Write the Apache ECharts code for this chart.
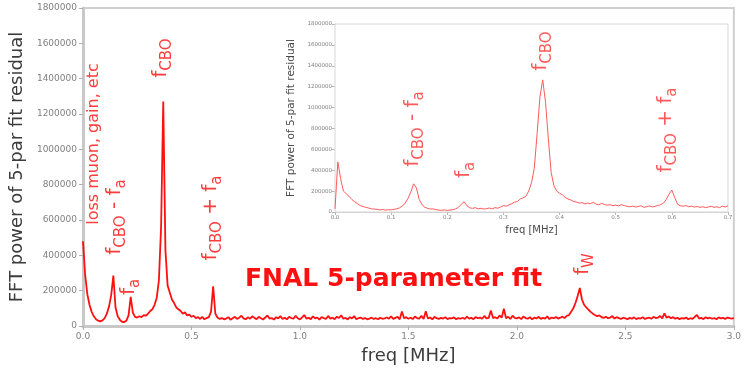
<!DOCTYPE html>
<html>
<head>
<meta charset="utf-8">
<script src="https://cdn.jsdelivr.net/npm/echarts@6/dist/echarts.min.js"></script>
<style>
  html, body { margin: 0; padding: 0; background: #fff; }
  #chart { width: 744px; height: 370px; }
</style>
</head>
<body>
<div id="chart"></div>
<script>
// FFT power of the 5-parameter fit residual, 0 - 3 MHz, one sample every 10 kHz
const mainStep = 0.01;
const mainPower = [
  480000, 290000, 180000, 120000, 80000, 55000, 38000, 30000, 26000, 32000,
  45000, 70000, 110000, 175000, 285000, 105000, 55000, 35000, 24000, 22000,
  30000, 60000, 165000, 75000, 52000, 48000, 55000, 50000, 62000, 58000,
  70000, 85000, 95000, 120000, 160000, 260000, 560000, 1270000, 430000, 230000,
  190000, 150000, 130000, 105000, 95000, 85000, 70000, 78000, 60000, 65000,
  52000, 58000, 45000, 50000, 40000, 52000, 38000, 45000, 50000, 80000,
  225000, 70000, 48000, 40000, 45000, 38000, 42000, 50000, 36000, 44000,
  52000, 40000, 47000, 58000, 43000, 38000, 49000, 41000, 55000, 46000,
  39000, 52000, 44000, 37000, 48000, 60000, 42000, 45000, 36000, 50000,
  43000, 56000, 40000, 47000, 38000, 52000, 45000, 41000, 58000, 44000,
  37000, 49000, 62000, 42000, 46000, 39000, 55000, 43000, 48000, 36000,
  51000, 44000, 40000, 57000, 42000, 47000, 38000, 53000, 45000, 61000,
  41000, 46000, 37000, 50000, 43000, 56000, 39000, 44000, 48000, 40000,
  45000, 38000, 42000, 47000, 40000, 44000, 39000, 46000, 41000, 43000,
  48000, 42000, 55000, 40000, 46000, 52000, 38000, 82000, 44000, 50000,
  41000, 47000, 39000, 54000, 45000, 42000, 58000, 40000, 84000, 43000,
  48000, 38000, 52000, 44000, 40000, 46000, 42000, 50000, 39000, 45000,
  43000, 49000, 38000, 45000, 41000, 47000, 40000, 53000, 42000, 46000,
  39000, 51000, 44000, 48000, 41000, 57000, 43000, 46000, 88000, 45000,
  50000, 42000, 60000, 47000, 98000, 44000, 52000, 40000, 58000, 46000,
  43000, 49000, 39000, 54000, 45000, 41000, 50000, 38000, 47000, 43000,
  52000, 40000, 46000, 42000, 55000, 39000, 48000, 44000, 51000, 42000,
  47000, 53000, 45000, 58000, 62000, 80000, 100000, 130000, 170000, 215000,
  150000, 120000, 105000, 92000, 80000, 70000, 62000, 55000, 60000, 50000,
  46000, 52000, 44000, 48000, 56000, 42000, 50000, 45000, 40000, 47000,
  43000, 38000, 46000, 41000, 49000, 39000, 45000, 42000, 50000, 40000,
  44000, 47000, 41000, 52000, 45000, 48000, 56000, 43000, 72000, 47000,
  54000, 44000, 50000, 41000, 46000, 39000, 45000, 42000, 48000, 38000,
  44000, 40000, 52000, 62000, 42000, 46000, 39000, 50000, 43000, 47000,
  41000, 45000, 38000, 49000, 43000, 46000, 40000, 48000, 44000, 42000,
  45000
];

// Close-up of the low-frequency region, 0 - 0.7 MHz, one sample every 5 kHz
const insetStep = 0.005;
const insetPower = [
  30000, 480000, 320000, 200000, 175000, 150000, 120000, 100000, 80000, 62000,
  52000, 45000, 38000, 30000, 28000, 25000, 20000, 24000, 18000, 22000,
  20000, 26000, 30000, 40000, 58000, 85000, 130000, 190000, 270000, 230000,
  120000, 70000, 45000, 35000, 28000, 30000, 22000, 18000, 16000, 20000,
  15000, 18000, 22000, 30000, 45000, 75000, 98000, 60000, 40000, 35000,
  42000, 30000, 36000, 28000, 32000, 38000, 30000, 42000, 36000, 48000,
  62000, 55000, 68000, 80000, 95000, 100000, 125000, 135000, 150000, 200000,
  280000, 420000, 750000, 1100000, 1265000, 1050000, 700000, 380000, 250000, 200000,
  180000, 165000, 140000, 125000, 115000, 100000, 95000, 85000, 90000, 78000,
  85000, 80000, 92000, 75000, 70000, 82000, 72000, 65000, 70000, 60000,
  66000, 58000, 70000, 62000, 55000, 50000, 56000, 48000, 52000, 60000,
  45000, 50000, 58000, 48000, 55000, 62000, 70000, 85000, 120000, 170000,
  210000, 140000, 75000, 60000, 55000, 62000, 50000, 56000, 48000, 52000,
  45000, 50000, 42000, 48000, 55000, 45000, 50000, 42000, 56000, 48000,
  60000
];

// Axis ranges
const mainFreqTicks = [0, 0.5, 1.0, 1.5, 2.0, 2.5, 3.0];
const insetFreqTicks = [0, 0.1, 0.2, 0.3, 0.4, 0.5, 0.6, 0.7];
const powerMax = 1800000;
const powerStep = 200000;

const mainData = mainPower.map((v, i) => [+(i * mainStep).toFixed(3), v]);
const insetData = insetPower.map((v, i) => [+(i * insetStep).toFixed(3), v]);

const FONT = 'DejaVu Sans';
const mainRed = '#ff1010';
const noteRed = '#ff3c3c';
const insetRed = '#ff5a5a';

// Rotated peak annotations; {m|..} is the main run, {s|..} a lowered subscript
function note(x, y, text, color, size, sub) {
  return {
    type: 'text', x: x, y: y, rotation: Math.PI / 2, z: 10,
    style: {
      text: text, fill: color, align: 'center', verticalAlign: 'middle',
      fontFamily: FONT, fontSize: size,
      rich: {
        m: { fontSize: size, fontFamily: FONT, fill: color, lineHeight: size, verticalAlign: 'top' },
        s: { fontSize: sub, fontFamily: FONT, fill: color, lineHeight: Math.round(size * 1.22), verticalAlign: 'bottom' }
      }
    }
  };
}

const chart = echarts.init(document.getElementById('chart'), null, { renderer: 'canvas' });

const tickLabelStyle = (size) => ({ color: '#808080', fontFamily: FONT, fontSize: size });

chart.setOption({
  animation: false,
  backgroundColor: '#ffffff',
  grid: [
    { left: 82, right: 4, top: 8, bottom: 42, show: true, borderColor: '#cfcfcf', borderWidth: 2, backgroundColor: '#fff' },
    { left: 335, right: 16, top: 24, bottom: 158, show: true, borderColor: '#d6d6d6', borderWidth: 1, backgroundColor: '#fff', z: 5 }
  ],
  xAxis: [
    {
      gridIndex: 0, type: 'value', min: mainFreqTicks[0], max: mainFreqTicks[mainFreqTicks.length - 1], interval: 0.5,
      name: 'freq [MHz]', nameLocation: 'middle', nameGap: 21,
      nameTextStyle: { color: '#3c3c3c', fontFamily: FONT, fontSize: 18 },
      axisLine: { lineStyle: { color: '#c8c8c8', width: 3 } },
      axisTick: { show: true, length: 4, lineStyle: { color: '#b0b0b0' } },
      axisLabel: Object.assign({ margin: 6, formatter: v => v.toFixed(1) }, tickLabelStyle(9)),
      splitLine: { show: false }
    },
    {
      gridIndex: 1, type: 'value', min: insetFreqTicks[0], max: insetFreqTicks[insetFreqTicks.length - 1], interval: 0.1,
      name: 'freq [MHz]', nameLocation: 'middle', nameGap: 11,
      nameTextStyle: { color: '#4a4a4a', fontFamily: FONT, fontSize: 10 },
      axisLine: { lineStyle: { color: '#d0d0d0', width: 1 } },
      axisTick: { show: true, length: 3, lineStyle: { color: '#b8b8b8' } },
      axisLabel: Object.assign({ margin: 3, formatter: v => v.toFixed(1) }, tickLabelStyle(5.5)),
      splitLine: { show: false }
    }
  ],
  yAxis: [
    {
      gridIndex: 0, type: 'value', min: 0, max: powerMax, interval: powerStep,
      name: 'FFT power of 5-par fit residual', nameLocation: 'middle', nameGap: 56,
      nameTextStyle: { color: '#3c3c3c', fontFamily: FONT, fontSize: 18 },
      axisLine: { show: true, lineStyle: { color: '#c8c8c8', width: 3 } },
      axisTick: { show: true, length: 4, lineStyle: { color: '#b0b0b0' } },
      axisLabel: Object.assign({ margin: 6, formatter: v => String(v) }, tickLabelStyle(9)),
      splitLine: { show: false }
    },
    {
      gridIndex: 1, type: 'value', min: 0, max: powerMax, interval: powerStep,
      name: 'FFT power of 5-par fit residual', nameLocation: 'middle', nameGap: 31,
      nameTextStyle: { color: '#4a4a4a', fontFamily: FONT, fontSize: 10.5 },
      axisLine: { show: true, lineStyle: { color: '#d0d0d0', width: 1 } },
      axisTick: { show: true, length: 3, lineStyle: { color: '#b8b8b8' } },
      axisLabel: Object.assign({ margin: 3, formatter: v => String(v) }, tickLabelStyle(5.5)),
      splitLine: { show: false }
    }
  ],
  series: [
    {
      name: 'residual FFT', type: 'line', xAxisIndex: 0, yAxisIndex: 0,
      data: mainData, showSymbol: false, symbol: 'none',
      lineStyle: { color: mainRed, width: 1.8 }, z: 3
    },
    {
      name: 'residual FFT (0-0.7 MHz)', type: 'line', xAxisIndex: 1, yAxisIndex: 1,
      data: insetData, showSymbol: false, symbol: 'none',
      lineStyle: { color: insetRed, width: 1 }, z: 6
    }
  ],
  graphic: [
    // main panel annotations
    note(94, 144, '{m|loss muon, gain, etc}', noteRed, 16, 12),
    note(117, 217, '{m|f}{s|CBO}{m| - f}{s|a}', noteRed, 20, 15),
    note(131, 287, '{m|f}{s|a}', noteRed, 20, 15),
    note(163, 58, '{m|f}{s|CBO}', noteRed, 20, 15),
    note(213, 218, '{m|f}{s|CBO}{m| + f}{s|a}', noteRed, 20, 15),
    note(585, 264, '{m|f}{s|W}', noteRed, 20, 15),
    // inset annotations
    note(415, 129, '{m|f}{s|CBO}{m| - f}{s|a}', insetRed, 20, 15),
    note(466, 170, '{m|f}{s|a}', insetRed, 20, 15),
    note(543, 51, '{m|f}{s|CBO}', insetRed, 20, 15),
    note(668, 130, '{m|f}{s|CBO}{m| + f}{s|a}', insetRed, 20, 15),
    {
      type: 'text', x: 245, y: 279, z: 10,
      style: {
        text: 'FNAL 5-parameter fit', fill: mainRed, align: 'left', verticalAlign: 'middle',
        fontFamily: FONT, fontWeight: 'bold', fontSize: 25
      }
    }
  ]
});
</script>
</body>
</html>
